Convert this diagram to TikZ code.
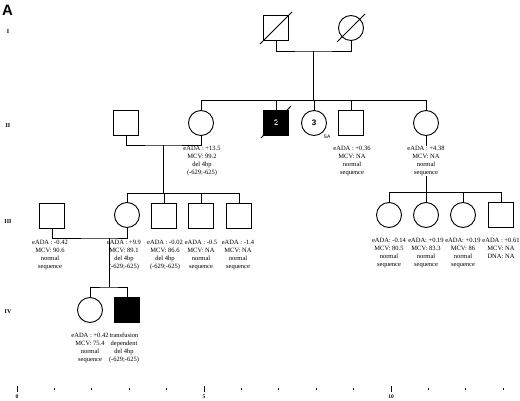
\documentclass[tikz,border=0pt]{standalone}
\usepackage{fontspec}
\setmainfont{Liberation Serif}
\newfontfamily\helv{Liberation Sans}
\usetikzlibrary{calc}

\begin{document}
\begin{tikzpicture}[x=1pt,y=-1pt, % pixel-like units, y downwards
        male/.style={draw, rectangle, minimum size=25pt, inner sep=0pt, line width=0.9pt},
        female/.style={draw, circle, minimum size=25pt, inner sep=0pt, line width=0.9pt},
        affected/.style={fill=black},
        link/.style={line width=0.9pt},
        info/.style={anchor=north, align=center, inner sep=0pt, font=\fontsize{6.5}{7.9}\selectfont},
        gen/.style={font=\fontsize{6}{7}\selectfont\bfseries, inner sep=0pt}]
        \useasboundingbox (0,0) rectangle (520,401);
        \node[anchor=north west, inner sep=0pt, font=\helv\bfseries\fontsize{15}{15}\selectfont] (title) at (2,5) {A};
        % Generation labels
        \node[gen] (g1) at (8,32) {I};
        \node[gen] (g2) at (8,126) {II};
        \node[gen] (g3) at (8,222) {III};
        \node[gen] (g4) at (8,312) {IV};
        % Generation I
        \node[male] (m1) at (276,28) {};
        \node[female] (f1) at (351,28) {};
        \draw[link] ($(m1)+(-16,16)$) -- ($(m1)+(16,-16)$);
        \draw[link] ($(f1)+(-14,14)$) -- ($(f1)+(14,-14)$);
        \coordinate (c1) at (313,51);
        \coordinate (s2) at (313,100);
        \draw[link] (m1.south) |- (c1) -| (f1.south);
        \draw[link] (c1) -- (s2);
        % Generation II
        \node[male] (h2) at (126,123) {};
        \node[female] (f2a) at (201,123) {};
        \node[male, affected, font=\helv\bfseries\fontsize{8}{8}\selectfont, text=white] (m2) at (276,123) {2};
        \node[female, font=\helv\bfseries\fontsize{8}{8}\selectfont] (f2b) at (314,123) {3};
        \node[male] (m2b) at (351,123) {};
        \node[female] (f2c) at (426,123) {};
        \draw[link] ($(m2)+(-15,15)$) -- ($(m2)+(15,-17)$);
        \node[inner sep=0pt, font=\helv\fontsize{5}{5}\selectfont] (sa) at (327,137) {SA};
        \draw[link] (f2a.north) |- (f2c.north |- s2) -- (f2c.north);
        \foreach \n in {m2,f2b,m2b}
            \draw[link] (\n.north) -- (\n.north |- s2);
        \coordinate (c2) at (163,145);
        \coordinate (s3) at (163,193);
        \draw[link] (h2.south) |- (c2) -| (f2a.south);
        \draw[link] (c2) -- (s3);
        \coordinate (s3r) at (426,192);
        \draw[link] (f2c.south) -- (s3r);
        \node[info] (t2a) at (202,146) {eADA : +13.5\\MCV: 99.2\\del 4bp\\(-629;-625)};
        \node[info] (t2b) at (352,146) {eADA : +0.36\\MCV: NA\\normal\\sequence};
        \node[info, fill=white] (t2c) at (426,146) {eADA : +4.38\\MCV: NA\\normal\\sequence};
        % Generation III, left
        \node[male] (h3) at (52,216) {};
        \node[female] (f3) at (127,215) {};
        \node[male] (m3a) at (164,216) {};
        \node[male] (m3b) at (201,216) {};
        \node[male] (m3c) at (239,216) {};
        \draw[link] (f3.north) |- (m3c.north |- s3) -- (m3c.north);
        \foreach \n in {m3a,m3b}
            \draw[link] (\n.north) -- (\n.north |- s3);
        \coordinate (c3) at (109,238);
        \coordinate (s4) at (109,287);
        \draw[link] (h3.south) |- (c3) -| (f3.south);
        \draw[link] (c3) -- (s4);
        \node[info] (t3h) at (50,240) {eADA : -0.42\\MCV: 90.6\\normal\\sequence};
        \node[info] (t3f) at (124,240) {eADA : +9.9\\MCV: 89.1\\del 4bp\\(-629;-625)};
        \node[info] (t3a) at (165,240) {eADA : -0.02\\MCV: 86.6\\del 4bp\\(-629;-625)};
        \node[info] (t3b) at (201,240) {eADA : -0.5\\MCV: NA\\normal\\sequence};
        \node[info] (t3c) at (238,240) {eADA : -1.4\\MCV: NA\\normal\\sequence};
        % Generation III, right
        \node[female] (f3d) at (389,215) {};
        \node[female] (f3e) at (426,215) {};
        \node[female] (f3f) at (463,215) {};
        \node[male] (m3d) at (501,215) {};
        \draw[link] (f3d.north) |- (m3d.north |- s3r) -- (m3d.north);
        \foreach \n in {f3e,f3f}
            \draw[link] (\n.north) -- (\n.north |- s3r);
        \node[info] (t3d) at (389,238) {eADA: -0.14\\MCV: 80.5\\normal\\sequence};
        \node[info] (t3e) at (426,238) {eADA: +0.19\\MCV: 83.3\\normal\\sequence};
        \node[info] (t3f2) at (463,238) {eADA: +0.19\\MCV: 86\\normal\\sequence};
        \node[info] (t3g) at (501,238) {eADA : +0.61\\MCV: NA\\DNA: NA};
        % Generation IV
        \node[female] (f4) at (90,310) {};
        \node[male, affected] (m4) at (127,310) {};
        \draw[link] (f4.north) |- (s4) -| (m4.north);
        \node[info] (t4f) at (90,333) {eADA : +0.42\\MCV: 75.4\\normal\\sequence};
        \node[info] (t4m) at (124,333) {transfusion\\dependent\\del 4bp\\(-629;-625)};
        % Scale
        \foreach \k in {1,2,3,4,6,7,8,9,11,12,13}
            \draw[line width=0.7pt] (17+37.4*\k,388) -- (17+37.4*\k,390);
        \foreach \k in {0,5,10} {
            \draw[line width=0.7pt] (17+37.4*\k,386) -- (17+37.4*\k,392);
            \node[gen, font=\fontsize{5.5}{6}\selectfont\bfseries] (sc\k) at (17+37.4*\k,397) {\k};
        }
\end{tikzpicture}
\end{document}
